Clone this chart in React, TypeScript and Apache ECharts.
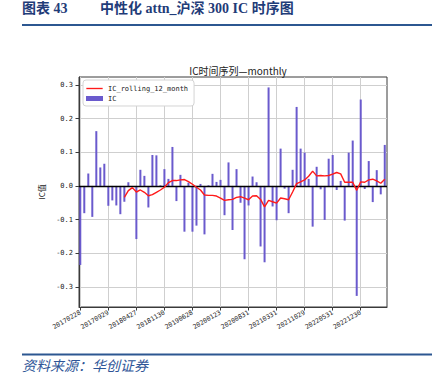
import React, { useEffect, useRef } from "react";
import * as echarts from "echarts";

// Monthly IC values, 2017-02 .. 2023-06 (index 0 = 20170228)
const icValues = [
  -0.235, -0.081, 0.037, -0.092, 0.163, 0.055, 0.066,
  -0.059, -0.043, -0.058, -0.084, -0.047, 0.011, -0.003,
  -0.158, 0.048, 0.030, -0.064, 0.092, 0.091, 0.002,
  0.050, 0.021, 0.116, -0.045, 0.033, -0.136, 0.010,
  -0.136, -0.118, 0.006, -0.144, 0.002, 0.036, 0.012,
  0.018, -0.087, 0.070, -0.131, 0.050, -0.050, -0.218,
  -0.058, 0.028, 0.011, -0.180, -0.227, 0.293, -0.061,
  -0.102, 0.111, -0.008, -0.081, 0.048, 0.235, 0.111,
  0.099, 0.021, -0.121, 0.057, -0.010, -0.101, 0.081,
  0.092, -0.012, 0.015, -0.103, 0.099, 0.135, -0.327,
  0.257, -0.009, 0.074, -0.048, 0.047, -0.025, 0.122,
];

// 12-month rolling IC, starting at index 11
const rollingStart = 11;
const rollingValues = [
  -0.034, -0.014, -0.005, -0.018, -0.012, -0.019, -0.029, -0.026, -0.019, -0.012,
  -0.004, 0.010, 0.016, 0.016, 0.018, 0.019, 0.013, 0.005, -0.004, -0.012,
  -0.027, -0.028, -0.028, -0.030, -0.036, -0.043, -0.041, -0.040, -0.034, -0.032,
  -0.036, -0.041, -0.030, -0.029, -0.040, -0.062, -0.043, -0.047, -0.051, -0.036,
  -0.038, -0.041, -0.018, 0.007, 0.012, 0.018, 0.029, 0.044, 0.030, 0.031,
  0.030, 0.031, 0.035, 0.040, 0.036, 0.011, 0.011, 0.011, -0.013, 0.012,
  0.011, 0.018, 0.020, 0.015, 0.008, 0.020,
];

const tickLabels = [
  "20170228", "20170929", "20180427", "20181130", "20190628", "20200123",
  "20200831", "20210331", "20211029", "20220531", "20221230",
];
const tickStep = 7;
const yTicks = [-0.3, -0.2, -0.1, 0, 0.1, 0.2, 0.3];

const MONO = "'DejaVu Sans Mono', 'Noto Sans CJK SC', monospace";
const CJK = "'Noto Sans CJK SC', sans-serif";
const LINE_ICON = "path://M0,0L0,0M0,1.9L17,1.9L17,3.3L0,3.3ZM17,5.2L17,5.2";

export default function App() {
  const ref = useRef<HTMLDivElement>(null);

  useEffect(() => {
    if (!ref.current) return;
    const chart = echarts.init(ref.current, null, { renderer: "svg" });
    const barData = icValues.map((v, i) => [i, v]);
    const lineData = rollingValues.map((v, k) => [k + rollingStart, v]);
    const xTickValues = tickLabels.map((_, k) => k * tickStep);

    chart.setOption({
      animation: false,
      backgroundColor: "#ffffff",
      grid: {
        left: 79,
        right: 46,
        top: 77,
        bottom: 69,
        show: true,
        borderColor: "#3a3a3a",
        borderWidth: 1,
        backgroundColor: "transparent",
      },
      title: {
        text: "IC时间序列—monthly",
        left: 233,
        top: 60,
        textAlign: "center",
        textStyle: { fontSize: 10, fontWeight: "normal", color: "#222", fontFamily: CJK },
      },
      legend: {
        orient: "vertical",
        left: 83,
        top: 80,
        padding: [5, 6, 4, 3],
        itemGap: 3,
        itemWidth: 17,
        itemHeight: 5,
        backgroundColor: "#ffffff",
        borderColor: "#d4d4d4",
        borderWidth: 1,
        borderRadius: 3,
        textStyle: { fontSize: 7, color: "#222", fontFamily: MONO },
        data: [
          { name: "IC_rolling_12_month", icon: LINE_ICON, itemStyle: { color: "#ff1a1a" } },
          { name: "IC", icon: "rect" },
        ],
      },
      xAxis: {
        type: "value",
        min: -0.32,
        max: 76.56,
        axisLine: { show: true, onZero: false, lineStyle: { color: "#3a3a3a", width: 1 } },
        axisTick: {
          show: true,
          length: 3.5,
          customValues: xTickValues,
          lineStyle: { color: "#3a3a3a" },
        },
        axisLabel: {
          customValues: xTickValues,
          rotate: 30,
          margin: 5,
          fontSize: 6.5,
          color: "#222",
          fontFamily: MONO,
          formatter: (v: number) => tickLabels[Math.round(v / tickStep)] ?? "",
        },
        splitLine: { show: true, lineStyle: { color: "#cfcfcf", width: 1 } },
      },
      yAxis: {
        type: "value",
        min: -0.36,
        max: 0.324,
        name: "IC值",
        nameLocation: "middle",
        nameGap: 27,
        nameRotate: 90,
        nameTextStyle: { fontSize: 8, color: "#222", fontFamily: CJK },
        axisLine: { show: true, onZero: false, lineStyle: { color: "#3a3a3a", width: 1 } },
        axisTick: {
          show: true,
          length: 3.5,
          customValues: yTicks,
          lineStyle: { color: "#3a3a3a" },
        },
        axisLabel: {
          customValues: yTicks,
          margin: 6,
          fontSize: 7,
          color: "#222",
          fontFamily: MONO,
          formatter: (v: number) => v.toFixed(1),
        },
        splitLine: { show: true, lineStyle: { color: "#cfcfcf", width: 1 } },
      },
      series: [
        {
          name: "IC_rolling_12_month",
          type: "line",
          data: lineData,
          symbol: "none",
          z: 4,
          lineStyle: { color: "#ff1a1a", width: 1.4 },
          itemStyle: { color: "#ff1a1a" },
        },
        {
          name: "IC",
          type: "bar",
          data: barData,
          barWidth: 2,
          z: 2,
          itemStyle: { color: "#6a5acd" },
          markLine: {
            silent: true,
            symbol: "none",
            label: { show: false },
            lineStyle: { color: "#000000", width: 1.4, type: "solid" },
            data: [{ yAxis: 0 }],
            z: 3,
          },
        },
      ],
      graphic: [
        {
          type: "text",
          left: 22,
          top: 1,
          style: {
            text: "图表 43",
            fontSize: 14,
            fontWeight: "bold",
            fill: "#1f3c78",
            fontFamily: "'Liberation Serif', 'Noto Sans CJK SC', serif",
          },
        },
        {
          type: "text",
          left: 100,
          top: 1,
          style: {
            text: "中性化 attn_沪深 300 IC 时序图",
            fontSize: 14,
            fontWeight: "bold",
            fill: "#1f3c78",
            fontFamily: "'Liberation Serif', 'Noto Sans CJK SC', serif",
          },
        },
        {
          type: "line",
          shape: { x1: 22, y1: 25, x2: 432, y2: 25 },
          style: { stroke: "#2c5791", lineWidth: 1.8 },
        },
        {
          type: "line",
          shape: { x1: 22, y1: 354.5, x2: 432, y2: 354.5 },
          style: { stroke: "#2c5791", lineWidth: 1.8 },
        },
        {
          type: "text",
          left: 22,
          top: 358,
          style: {
            text: "资料来源：华创证券",
            fontSize: 14,
            fontStyle: "italic",
            fill: "#2e5597",
            fontFamily: CJK,
          },
        },
      ],
    });
    return () => chart.dispose();
  }, []);

  return (
    <div
      ref={ref}
      style={{ position: "absolute", left: 0, top: 0, width: 433, height: 376 }}
    />
  );
}
